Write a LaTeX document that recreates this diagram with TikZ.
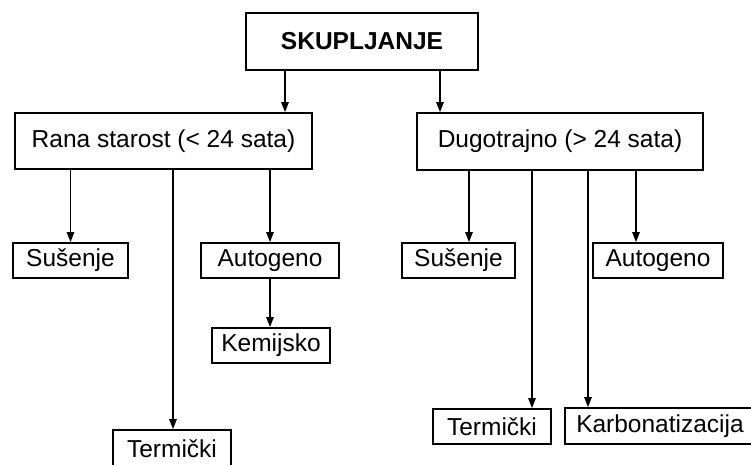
\documentclass[tikz,border=0pt]{standalone}
\usepackage{fontspec}
\setmainfont{Liberation Sans}
\usetikzlibrary{arrows.meta}
\begin{document}
\begin{tikzpicture}[x=1pt,y=-1pt,
  box/.style={draw,line width=1.8pt,inner sep=0pt,font=\fontsize{24.5}{28}\selectfont},
  arr/.style={line width=1.3pt,-{Triangle[length=10pt,width=7.5pt]}}]
\useasboundingbox (0,0) rectangle (751,465);
\node[box,minimum width=232pt,minimum height=57pt,font=\fontsize{24.5}{28}\selectfont\bfseries] (top) at (362,41.5) {SKUPLJANJE};
\node[box,minimum width=297pt,minimum height=56pt] (rana) at (163.5,141) {Rana starost (< 24 sata)};
\node[box,minimum width=286pt,minimum height=57pt] (dugo) at (560,141.5) {Dugotrajno (> 24 sata)};
\node[box,minimum width=115pt,minimum height=35pt] (sus1) at (70.5,260.5) {Sušenje};
\node[box,minimum width=138pt,minimum height=35pt] (auto1) at (270,260.5) {Autogeno};
\node[box,minimum width=118pt,minimum height=35pt] (kem) at (271,345.5) {Kemijsko};
\node[box,minimum width=118pt,minimum height=38pt] (term1) at (172,449) {Termički};
\node[box,minimum width=113pt,minimum height=35pt] (sus2) at (458.5,260.5) {Sušenje};
\node[box,minimum width=130pt,minimum height=35pt] (auto2) at (658,260.5) {Autogeno};
\node[box,minimum width=118pt,minimum height=35pt] (term2) at (492,426.5) {Termički};
\node[box,minimum width=190pt,minimum height=36pt] (karb) at (660,426) {Karbonatizacija};
\draw[arr] (top.south -| 285,0) -- (rana.north -| 285,0);
\draw[arr] (top.south -| 440,0) -- (dugo.north -| 440,0);
\draw[arr] (rana.south -| sus1.north) -- (sus1.north);
\draw[arr] (rana.south -| 173,0) -- (term1.north -| 173,0);
\draw[arr] (rana.south -| auto1.north) -- (auto1.north);
\draw[arr] (auto1.south) -- (kem.north -| auto1.south);
\draw[arr] (dugo.south -| 469,0) -- (sus2.north -| 469,0);
\draw[arr] (dugo.south -| 532,0) -- (term2.north -| 532,0);
\draw[arr] (dugo.south -| 588,0) -- (karb.north -| 588,0);
\draw[arr] (dugo.south -| 636,0) -- (auto2.north -| 636,0);
\end{tikzpicture}
\end{document}
